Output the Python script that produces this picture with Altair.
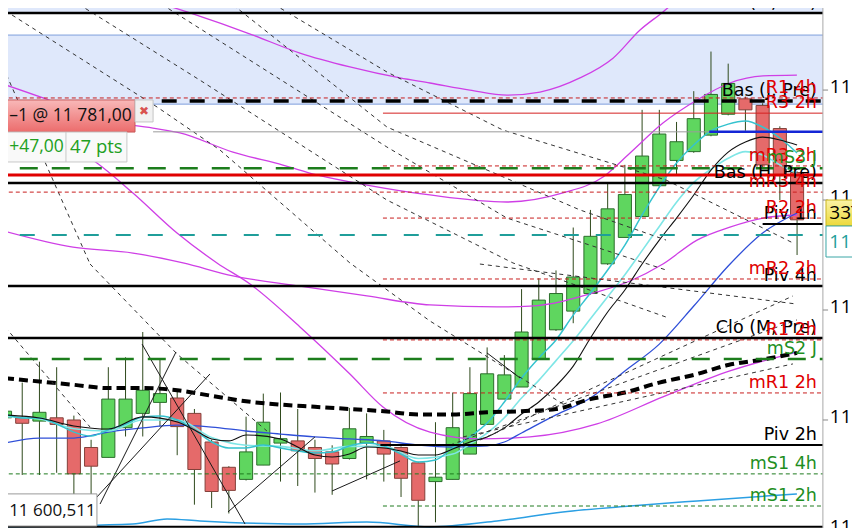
import altair as alt
import pandas as pd

# ---------------- scale ranges (candle index / price) ----------------
X_MIN, X_MAX = 0.174, 49.19
P_MIN, P_MAX = 11600.9, 11837.3
X_AXIS = 47.5
X_LEFT = -1.0
X_LABEL = 47.15

# ---------------- candles ----------------
opens = [11651, 11651, 11649.5, 11651, 11650, 11637.5, 11633, 11646.5, 11653, 11658,
         11660, 11653, 11640, 11628.5, 11623, 11629.5, 11639.5, 11640.5, 11637.5, 11635.5,
         11632.5, 11639.5, 11640.5, 11637.5, 11630.5, 11622, 11623, 11634.5, 11648, 11659.5,
         11665, 11677.5, 11691, 11699.5, 11707.5, 11721, 11733, 11742.5, 11756.5, 11768,
         11772, 11779.5, 11789, 11796, 11793, 11782.5, 11762.5]
highs = [11665, 11667, 11676.5, 11674, 11652, 11641, 11674, 11678.5, 11690, 11678,
         11663.5, 11655, 11641, 11629, 11651.5, 11662, 11662.5, 11655, 11641, 11638.5,
         11655.5, 11653, 11645.5, 11638, 11631, 11649, 11662.5, 11674, 11683, 11679.5,
         11709.5, 11714.5, 11718, 11737.5, 11745.5, 11757.5, 11766, 11791, 11791, 11785.5,
         11799.5, 11817.5, 11812, 11797, 11794, 11783.5, 11763]
lows = [11617, 11625, 11625, 11626, 11615, 11615, 11633, 11642.5, 11642.5, 11647,
        11634, 11611.5, 11610, 11607.5, 11622.5, 11629.5, 11622, 11620, 11617, 11616,
        11632, 11623, 11622, 11615, 11601.5, 11603.5, 11623, 11634.5, 11648, 11659.5,
        11665, 11677.5, 11690.5, 11694, 11707, 11720.5, 11733, 11742.5, 11756, 11761.5,
        11771.5, 11779, 11788.5, 11781.5, 11765, 11750, 11725]
closes = [11654, 11648.5, 11653.5, 11648, 11625.5, 11629, 11659.5, 11659.5, 11663.5, 11662,
          11647, 11627.5, 11617.5, 11618, 11635.5, 11649, 11641.5, 11636, 11632.5, 11630,
          11646, 11642.5, 11634.5, 11623.5, 11613.5, 11624, 11646.5, 11662, 11671, 11670.5,
          11690, 11704.5, 11707.5, 11715, 11733.5, 11746, 11752.5, 11770, 11780, 11776.5,
          11787, 11798, 11803, 11791, 11766, 11761.5, 11741]
candle_idx = list(range(len(opens)))

# ---------------- moving averages ----------------
ma_long_i = list(range(0, 47, 2))
ma_long_p = [11669, 11667.5, 11666, 11664.5, 11664.5, 11663.5, 11661, 11658.5, 11657, 11656,
             11655, 11654, 11652.5, 11652.5, 11653.5, 11654, 11655, 11659.5, 11662.5, 11667,
             11670.5, 11675, 11677.5, 11680.5]

blue_i = [0, 2, 4, 6, 8, 10, 12, 14, 16, 18, 20, 22, 24, 26, 28, 29, 30, 32, 34, 36, 38, 40, 42, 44, 46]
blue_p = [11639.5, 11641.8, 11641.8, 11644.5, 11646.4, 11647.7, 11646.8, 11645, 11643.6, 11642.3,
          11641.4, 11640.5, 11638.6, 11637.7, 11638.2, 11640, 11644.1, 11652.3, 11660, 11672.3,
          11684.5, 11701.8, 11720, 11735, 11744.1]

cyan1_i = list(range(47))
cyan1_p = [11652.7, 11650.9, 11650.9, 11648.2, 11644.5, 11642.7, 11645.5, 11648.2, 11651.4, 11651.8,
           11650, 11645.5, 11640, 11637.3, 11637.3, 11638.6, 11637.3, 11635.9, 11635, 11635.5,
           11638.2, 11639.5, 11638.2, 11634.5, 11630.9, 11631.8, 11637.3, 11642.3, 11648.6, 11658.2,
           11669.1, 11678.2, 11686.4, 11697.7, 11707.7, 11718.2, 11729.5, 11743.2, 11755.9, 11766.8,
           11775, 11781.4, 11784.5, 11785.9, 11783.2, 11778.2, 11771.4]

cyan2_i = [0, 2, 4, 6, 8, 10, 12, 14, 16, 18, 20, 22, 24] + list(range(26, 47))
cyan2_p = [11651.5, 11650.5, 11646, 11645, 11650, 11650, 11642, 11638.5, 11638, 11636, 11638, 11638, 11632.5,
           11634.5, 11639, 11644, 11651, 11660, 11668, 11677, 11686, 11696, 11706, 11716, 11727,
           11738, 11749, 11758, 11764, 11769, 11772, 11770.5, 11766, 11762]

black_i = [0, 2, 4, 6, 8, 10, 11, 12, 13, 14, 16] + list(range(17, 47))
black_p = [11652.3, 11650.9, 11647.3, 11645.9, 11651.4, 11649.1, 11645.5, 11641.4, 11640.5, 11643.2, 11641.4,
           11637.7, 11634.1, 11633.2, 11634.5, 11637.7, 11637.3, 11635.9, 11634.1, 11634.1, 11636.8,
           11640, 11642.3, 11646.4, 11652.7, 11658.2, 11665.5, 11674.5, 11687.3, 11699.1, 11709.1,
           11720.9, 11731.8, 11741.8, 11752.3, 11763.6, 11771.8, 11776.4, 11778.6, 11777.3, 11775]

sky_i = [-0.29, 7.43, 9.41, 11.32, 17.13, 21.02, 24.68, 28.57, 32.4, 36.3, 40.19, 45.99]
sky_p = [11601.4, 11602.7, 11605, 11604.1, 11602.7, 11603.6, 11601.4, 11604.1, 11608.2, 11610.9, 11613.2, 11616.4]

# ---------------- bands (magenta) ----------------
magA_i = [8.42, 10.57, 14.4, 17.13, 20.03, 22.94, 24.68, 27.0, 29.15, 31.07, 33.39, 35.31, 36.88, 38.21, 39.02]
magA_p = [11840.9, 11835.5, 11825, 11816.8, 11810.5, 11805.5, 11803.2, 11800, 11797.7, 11799.1, 11805.5,
          11814.5, 11827.3, 11835.5, 11840.9]
magB_i = [-0.29, 2.21, 5.52, 8.59, 10.16, 13.24, 16.14, 18.12, 21.02, 24.68, 29.15, 32.4, 34.73, 36.3,
          38.21, 40.19, 42.1, 44.02, 45.99]
magB_p = [11803.2, 11796.4, 11786.4, 11782.7, 11780.5, 11771.8, 11765.9, 11761.4, 11756.8, 11752.3,
          11749.1, 11753.2, 11760.5, 11771.4, 11785, 11795.5, 11803.2, 11806.4, 11806.8]
magC_i = [3.19, 5.34, 7.43, 9.99, 12.31, 14.23, 17.13, 20.03, 21.95, 24.68, 27.58, 30.49, 34.38, 38.21, 42.1, 45.99]
magC_p = [11777.3, 11766.8, 11753.2, 11735, 11721.4, 11711.8, 11692.3, 11670.9, 11655.9, 11644.5,
          11641.4, 11642.3, 11648.2, 11660.5, 11672.3, 11680.9]
magD_i = [-0.29, 3.95, 7.43, 10.34, 13.24, 17.13, 21.02, 24.68, 28.57, 30.49, 34.38, 36.3, 38.21,
          40.19, 42.1, 44.02, 45.99]
magD_p = [11736.4, 11728.6, 11725.9, 11721.4, 11715.5, 11710.9, 11706.4, 11702.3, 11701.4, 11701.8,
          11708.2, 11713.2, 11720.9, 11731.8, 11737.7, 11741.8, 11743.2]

# ---------------- drawn trend lines (dashed) ----------------
dash_seg = (["D1"] * 2 + ["D2"] * 3 + ["D3"] * 2 + ["D4"] * 6 + ["S1"] * 4 + ["S2"] * 4 +
            ["S3"] * 5 + ["S4"] * 5 + ["E1"] * 2 + ["A1"] * 2 + ["A2"] * 2 + ["A3"] * 2)
dash_i = [-0.29, 4.94,
          4.94, 9.99, 15.21,
          -0.29, 4.94,
          0.41, 8.83, 12.49, 20.03, 24.68, 32.4,
          8.71, 22.18, 29.15, 38.39,
          12.89, 22.18, 33.39, 38.39,
          15.21, 22.18, 28.92, 38.39, 45.76,
          3.89, 11.32, 22.18, 29.5, 38.39,
          27.58, 45.99,
          27.58, 45.76,
          26.6, 45.76,
          25.84, 45.99]
dash_p = [11813.6, 11720.9,
          11720.9, 11680, 11645,
          11695, 11646.8,
          11834.1, 11792.3, 11772.7, 11721.4, 11695, 11657.3,
          11840.9, 11774.1, 11741.8, 11718.2,
          11840.9, 11783.2, 11745.5, 11731.8,
          11840.9, 11808.2, 11781.8, 11759.1, 11730.5,
          11840.9, 11804.5, 11750, 11721.4, 11696.8,
          11720.9, 11702.7,
          11640.9, 11706.4,
          11642.3, 11675.5,
          11638.6, 11695.5]

trend_seg = ["T1", "T1", "T2", "T2", "T3", "T3", "T4", "T4", "T5", "T5", "T6", "T6"]
trend_i = [7.96, 13.94, 5.34, 11.9, 5.52, 9.93, 12.95, 18.0, 18.99, 22.94, 27.99, 29.91]
trend_p = [11684.5, 11602.7, 11615, 11670.9, 11611.8, 11680.9, 11608.2, 11642.3, 11617.7, 11631.4, 11680.5, 11669.1]

# ---------------- horizontal levels ----------------
blk_thick_p = [11835.0, 11757.7, 11710.9, 11687.3]
blk_mid_p = [11638.6, 11739.1, 11601.5]
blk_mid_s = [21.8, 44.0, X_LEFT]
blk_dash_p = [11795.0]
blk_dash_s = [9.1]
red_dash_p = [11796.4, 11753.6, 11765.5, 11741.8, 11714.1, 11686.4, 11662.3]
red_dash_s = [X_LEFT, X_LEFT, 21.95, 21.95, 21.95, 21.95, 21.95]
red_thin_p = [11789.5]
red_thin_s = [21.95]
red_thick_p = [11761.4]
grn_dash_p = [11764.5, 11677.7]
grn_thin_p = [11625.5, 11610.9]
grn_thin_s = [X_LEFT, 21.95]
teal_p = [11734.1]
order_price = 11781.0
order_blue_s = 40.9
order_grey_s = 8.6
band_lines_p = [11825.0, 11793.6]
band_top = [11835.0, 11845.0]
band_mid = [11793.6, 11825.0]

label_blk = ["Haut (M, Pre)", "Bas (J, Pre)", "Bas (H, Pre)", "Piv 1h", "Piv 4h", "Clo (M, Pre)", "Piv 2h"]
label_blk_p = [11835.0, 11795.0, 11757.7, 11739.1, 11710.9, 11687.3, 11638.6]
label_red = ["R1 4h", "R3 2h", "mR3 2h", "mR3 4h", "R2 2h", "mR2 2h", "R1 2h", "mR1 2h"]
label_red_p = [11796.4, 11789.5, 11765.5, 11753.6, 11741.8, 11714.1, 11686.4, 11662.3]
label_grn = ["mS3 J", "mS2 J", "mS1 4h", "mS1 2h"]
label_grn_p = [11764.5, 11677.7, 11625.5, 11610.9]

tick_p = [11800, 11750, 11700, 11650, 11600]
tick_txt = ["11 800", "11 750", "11 700", "11 650", "11 600"]

# ---------------- helpers ----------------
XS = alt.Scale(domain=[X_MIN, X_MAX], nice=False, zero=False)
YS = alt.Scale(domain=[P_MIN, P_MAX], nice=False, zero=False)


def X(f="i"):
    return alt.X(f"{f}:Q", scale=XS, axis=None)


def Y(f="p"):
    return alt.Y(f"{f}:Q", scale=YS, axis=None)


def line(xs, ps, color, width=1.0, dash=None, interp="monotone"):
    kw = dict(clip=True, color=color, strokeWidth=width, interpolate=interp)
    if dash:
        kw["strokeDash"] = dash
    return alt.Chart(pd.DataFrame({"i": xs, "p": ps})).mark_line(**kw).encode(x=X(), y=Y())


def levels(ps, starts, color, width, dash=None):
    df = pd.DataFrame({"p": ps, "s": starts, "e": [X_AXIS] * len(ps)})
    kw = dict(clip=True, color=color, strokeWidth=width)
    if dash:
        kw["strokeDash"] = dash
    return alt.Chart(df).mark_rule(**kw).encode(x=X("s"), x2=alt.X2("e:Q"), y=Y())


def rect(x1, x2, p1, p2, **kw):
    df = pd.DataFrame({"a": [x1], "b": [x2], "p": [p1], "q": [p2]})
    return alt.Chart(df).mark_rect(clip=True, **kw).encode(
        x=X("a"), x2=alt.X2("b:Q"), y=Y("p"), y2=alt.Y2("q:Q"))


def texts(txts, xs, ps, color, size, align="left", baseline="middle", dy=0, font="DejaVu Sans", weight="normal"):
    df = pd.DataFrame({"t": txts, "i": xs, "p": ps})
    return alt.Chart(df).mark_text(clip=True, align=align, baseline=baseline, dy=dy, font=font,
                                   fontSize=size, color=color, fontWeight=weight).encode(
        x=X(), y=Y(), text="t:N")


L = X_LEFT
layers = []

# shaded bands
layers.append(rect(L, X_AXIS, band_top[0], band_top[1], color="#dfe8fb"))
layers.append(rect(L, X_AXIS, band_mid[0], band_mid[1], color="#dfe8fb"))
layers.append(levels(band_lines_p, [L, L], "#7f9fdc", 1))

# candles
cdf = pd.DataFrame({"i": candle_idx, "o": opens, "h": highs, "l": lows, "c": closes})
wicks = alt.Chart(cdf).mark_rule(clip=True, color="#2f4a1c", strokeWidth=1).encode(
    x=X("i"), y=Y("l"), y2=alt.Y2("h:Q"))
bodies = alt.Chart(cdf).transform_calculate(
    xl="datum.i - 0.38", xr="datum.i + 0.38").mark_rect(clip=True, strokeWidth=1).encode(
    x=X("xl"), x2=alt.X2("xr:Q"), y=Y("o"), y2=alt.Y2("c:Q"),
    fill=alt.condition("datum.c >= datum.o", alt.value("#5fd65f"), alt.value("#e56a6a")),
    stroke=alt.condition("datum.c >= datum.o", alt.value("#2b6e2b"), alt.value("#83403a")))
layers += [wicks, bodies]

# averages and bands
layers.append(line(sky_i, sky_p, "#2b9fe3", 1.5))
layers.append(line(magA_i, magA_p, "#cf3fe6", 1.3))
layers.append(line(magB_i, magB_p, "#cf3fe6", 1.3))
layers.append(line(magC_i, magC_p, "#cf3fe6", 1.3))
layers.append(line(magD_i, magD_p, "#cf3fe6", 1.3))
layers.append(line(blue_i, blue_p, "#2f4fd8", 1.3))
layers.append(line(cyan2_i, cyan2_p, "#7fe6e6", 1.6))
layers.append(line(cyan1_i, cyan1_p, "#35c3cf", 1.5))
layers.append(line(black_i, black_p, "#111111", 1.1))
layers.append(line(ma_long_i, ma_long_p, "#000000", 4, dash=[9, 5]))

# drawn lines
ddf = pd.DataFrame({"g": dash_seg, "i": dash_i, "p": dash_p})
layers.append(alt.Chart(ddf).mark_line(clip=True, color="#333333", strokeWidth=1, strokeDash=[4, 4]).encode(
    x=X(), y=Y(), detail="g:N"))
tdf = pd.DataFrame({"g": trend_seg, "i": trend_i, "p": trend_p})
layers.append(alt.Chart(tdf).mark_line(clip=True, color="#1a1a1a", strokeWidth=1).encode(
    x=X(), y=Y(), detail="g:N"))

# horizontal levels
layers.append(levels([order_price], [order_grey_s], "#9a9a9a", 1))
layers.append(levels(teal_p, [L], "#1f9e9a", 2, dash=[15, 17]))
layers.append(levels(red_dash_p, red_dash_s, "#c81e1e", 1, dash=[4, 3]))
layers.append(levels(grn_thin_p, grn_thin_s, "#1e7a1e", 1, dash=[4, 3]))
layers.append(levels(red_thin_p, red_thin_s, "#d42020", 1))
layers.append(levels(grn_dash_p, [L, L], "#1c7d1c", 2.5, dash=[18, 14]))
layers.append(levels(red_thick_p, [L], "#e00000", 3))
layers.append(levels(blk_thick_p, [L] * 4, "#000000", 2.5))
layers.append(levels(blk_mid_p, blk_mid_s, "#000000", 2))
layers.append(levels(blk_dash_p, blk_dash_s, "#000000", 3.5, dash=[15, 13]))
layers.append(levels([order_price], [order_blue_s], "#1426d6", 2.5))

# level labels
LS = 17.5
layers.append(texts(label_blk, [X_LABEL] * len(label_blk), label_blk_p, "#000000", LS,
                    align="right", baseline="alphabetic", dy=-5))
layers.append(texts(label_red, [X_LABEL] * len(label_red), label_red_p, "#e00000", LS,
                    align="right", baseline="alphabetic", dy=-5))
layers.append(texts(label_grn, [X_LABEL] * len(label_grn), label_grn_p, "#1f8f1f", LS,
                    align="right", baseline="alphabetic", dy=-5))

# right price axis
axdf = pd.DataFrame({"i": [X_AXIS], "p": [P_MIN], "q": [P_MAX]})
layers.append(alt.Chart(axdf).mark_rule(clip=True, color="#a8a8a8", strokeWidth=1).encode(
    x=X(), y=Y(), y2=alt.Y2("q:Q")))
tkdf = pd.DataFrame({"p": tick_p, "s": [X_AXIS] * 5, "e": [X_AXIS + 0.3] * 5})
layers.append(alt.Chart(tkdf).mark_rule(clip=True, color="#888888", strokeWidth=1).encode(
    x=X("s"), x2=alt.X2("e:Q"), y=Y()))
layers.append(texts(tick_txt, [47.9] * 5, tick_p, "#000000", 19, dy=-3, font="Open Sans"))

yellow = alt.Gradient(gradient="linear", x1=0, x2=0, y1=0, y2=1,
                      stops=[alt.GradientStop(color="#fbf3a6", offset=0),
                             alt.GradientStop(color="#ecd93a", offset=1)])
layers.append(rect(47.68, 49.5, 11738.2, 11750.0, fill=yellow, stroke="#c9b520", strokeWidth=1))
layers.append(texts(["33T"], [47.87], [11744.0], "#000000", 19, font="Open Sans"))
layers.append(rect(47.68, 49.5, 11724.1, 11738.2, fill="#ffffff", stroke="#3aa6a6", strokeWidth=1))
layers.append(texts(["11 734"], [47.87], [11731.0], "#1f9e9a", 19, font="Open Sans"))

# order boxes (left)
pink = alt.Gradient(gradient="linear", x1=0, x2=0, y1=0, y2=1,
                    stops=[alt.GradientStop(color="#f8b8b8", offset=0),
                           alt.GradientStop(color="#ec6c6c", offset=1)])
layers.append(rect(L, 7.55, 11780.9, 11795.5, fill=pink, stroke="#c85a5a", strokeWidth=1))
layers.append(texts(["\u20131 @ 11 781,00"], [0.24], [11788.2], "#111111", 17.5, font="Open Sans"))
layers.append(rect(7.55, 8.6, 11785.5, 11795.5, fill="#f1f1f1", stroke="#c4c4c4", strokeWidth=1))
layers.append(texts(["\u2716"], [8.07], [11790.5], "#d9534f", 12, align="center"))
layers.append(rect(L, 7.08, 11767.3, 11780.9, fill="#f9f9f9", stroke="#c8c8c8", strokeWidth=1))
divdf = pd.DataFrame({"i": [3.54], "p": [11767.3], "q": [11780.9]})
layers.append(alt.Chart(divdf).mark_rule(clip=True, color="#c8c8c8", strokeWidth=1).encode(
    x=X(), y=Y(), y2=alt.Y2("q:Q")))
layers.append(texts(["+47,00"], [0.24], [11774.1], "#22a022", 17.5, font="Open Sans"))
layers.append(texts(["47 pts"], [3.77], [11774.1], "#22a022", 18.5, font="Open Sans"))

# crosshair price box
layers.append(rect(L, 5.34, 11601.8, 11616.4, fill="#ffffff", stroke="#9a9a9a", strokeWidth=1))
layers.append(texts(["11 600,511"], [0.24], [11608.6], "#111111", 17, font="Open Sans"))

chart = alt.layer(*layers).properties(
    width=844, height=520, padding=0, background="#ffffff",
    autosize=alt.AutoSizeParams(type="none")
).configure_view(stroke=None)

chart.save("out.html", embed_options={"renderer": "svg", "actions": False})
